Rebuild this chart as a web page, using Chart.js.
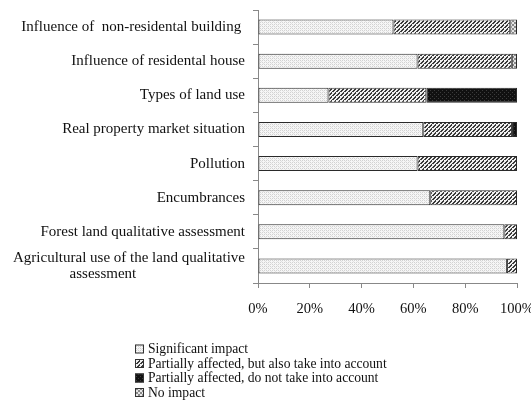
<!DOCTYPE html>
<html>
<head>
<meta charset="utf-8">
<script src="https://cdn.jsdelivr.net/npm/chart.js@4"></script>
<style>
html,body{margin:0;padding:0;background:#fff;}
#wrap{width:531px;height:403px;position:relative;}
</style>
</head>
<body>
<div id="wrap"><canvas id="c" width="531" height="403"></canvas></div>
<script>
const categories = [
  "Influence of  non-residental building ",
  "Influence of residental house",
  "Types of land use",
  "Real property market situation",
  "Pollution",
  "Encumbrances",
  "Forest land qualitative assessment",
  ["Agricultural use of the land qualitative", "assessment                             "]
];
const significantImpact = [52.3, 61.6, 27.2, 63.8, 61.6, 66.5, 95.1, 96.1];
const partialTakeInto   = [45.1, 36.4, 37.8, 34.3, 38.4, 33.5, 4.9, 3.9];
const partialNotTake    = [0, 0, 35.0, 1.9, 0, 0, 0, 0];
const noImpact          = [2.6, 2.0, 0, 0, 0, 0, 0, 0];
const seriesNames = [
  "Significant impact",
  "Partially affected, but also take into account",
  "Partially affected, do not take into account",
  "No impact"
];
const xTicks = [0, 20, 40, 60, 80, 100];

function makePattern(kind) {
  const p = document.createElement('canvas');
  const ctx = p.getContext('2d');
  p.width = 4; p.height = 4;
  if (kind === 'light') {
    ctx.fillStyle = '#f6f6f6'; ctx.fillRect(0,0,4,4);
    ctx.fillStyle = '#d2d2d2';
    ctx.fillRect(0,0,1,1); ctx.fillRect(2,2,1,1); ctx.fillRect(2,0,1,1); ctx.fillRect(0,2,1,1);
    ctx.fillStyle = '#e2e2e2'; ctx.fillRect(1,1,1,1); ctx.fillRect(3,3,1,1);
  } else if (kind === 'hatch') {
    ctx.fillStyle = '#f0f0f0'; ctx.fillRect(0,0,4,4);
    ctx.fillStyle = '#3a3a3a';
    for (let i = 0; i < 4; i++) ctx.fillRect((3 - i + 4) % 4, i, 2, 1);
  } else if (kind === 'dark') {
    ctx.fillStyle = '#111'; ctx.fillRect(0,0,4,4);
    ctx.fillStyle = '#3c3c3c';
    ctx.fillRect(0,0,1,1); ctx.fillRect(2,2,1,1);
  } else {
    ctx.fillStyle = '#e6e6e6'; ctx.fillRect(0,0,4,4);
    ctx.fillStyle = '#8a8a8a';
    ctx.fillRect(0,0,2,2); ctx.fillRect(2,2,2,2);
  }
  return document.getElementById('c').getContext('2d').createPattern(p, 'repeat');
}

const fills = [makePattern('light'), makePattern('hatch'), makePattern('dark'), makePattern('check')];
const seriesValues = [significantImpact, partialTakeInto, partialNotTake, noImpact];
const FONT = "'Liberation Serif', 'Times New Roman', serif";

const legendPlugin = {
  id: 'stackLegend',
  afterDraw(chart) {
    const ctx = chart.ctx;
    ctx.save();
    const ys = [349, 363.5, 378, 392.5];
    chart.data.datasets.forEach((ds, i) => {
      const y = ys[i];
      ctx.fillStyle = ds.backgroundColor;
      ctx.fillRect(135, y - 4.5, 9, 9);
      ctx.strokeStyle = '#333';
      ctx.lineWidth = 1;
      ctx.strokeRect(135.5, y - 4, 8, 8);
      ctx.fillStyle = '#111';
      ctx.font = "13.6px " + FONT;
      ctx.textBaseline = 'middle';
      ctx.textAlign = 'left';
      ctx.fillText(ds.label, 148, y + 0.5);
    });
    ctx.restore();
  }
};

new Chart(document.getElementById('c'), {
  type: 'bar',
  data: {
    labels: categories,
    datasets: seriesNames.map((name, i) => ({
      label: name,
      data: seriesValues[i],
      backgroundColor: fills[i],
      borderColor: '#2a2a2a',
      borderWidth: 1,
      borderSkipped: false,
      barPercentage: 0.44,
      categoryPercentage: 1.0
    }))
  },
  options: {
    indexAxis: 'y',
    responsive: false,
    animation: false,
    layout: { padding: { top: 10, right: 14, left: 0, bottom: 0 } },
    plugins: { legend: { display: false }, tooltip: { enabled: false } },
    scales: {
      x: {
        stacked: true,
        min: 0, max: 100,
        afterBuildTicks(scale) { scale.ticks = xTicks.map(v => ({ value: v })); },
        afterFit(scale) {
          scale.height = 120;
          scale.paddingLeft = 0; scale.paddingRight = 0;
          scale.paddingTop = 0; scale.paddingBottom = 0;
        },
        ticks: {
          callback: v => v + '%',
          color: '#111',
          padding: 12,
          maxRotation: 0,
          autoSkip: false,
          font: { family: FONT, size: 14.5 }
        },
        grid: { drawOnChartArea: false, tickLength: 5, color: '#888' },
        border: { color: '#888' }
      },
      y: {
        stacked: true,
        afterFit(scale) {
          scale.width = 258;
          scale.paddingLeft = 0; scale.paddingRight = 0;
          scale.paddingTop = 0; scale.paddingBottom = 0;
        },
        ticks: {
          color: '#111',
          padding: 8,
          autoSkip: false,
          font: { family: FONT, size: 15, lineHeight: 1.1 }
        },
        grid: { drawOnChartArea: false, tickLength: 5, color: '#888', offset: true },
        border: { color: '#888' }
      }
    }
  },
  plugins: [legendPlugin]
});
</script>
</body>
</html>
